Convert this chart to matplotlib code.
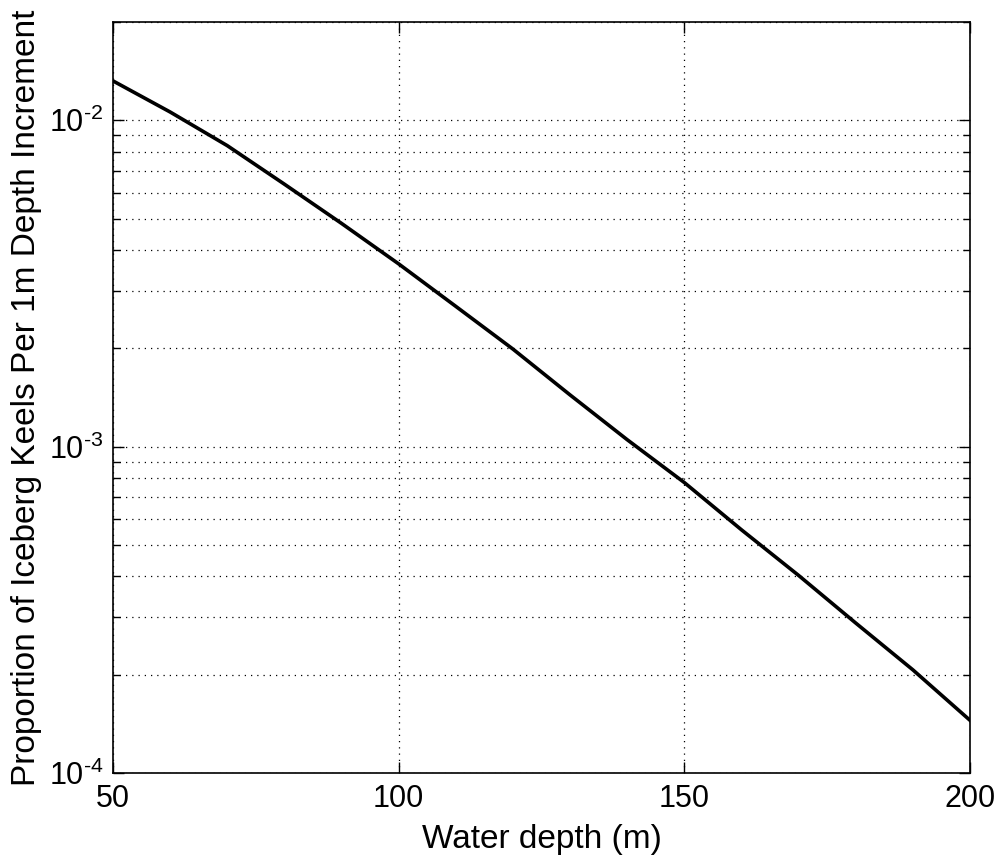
import matplotlib
matplotlib.use("Agg")
import matplotlib.pyplot as plt
from matplotlib.ticker import LogLocator, FixedLocator, NullFormatter

plt.rcParams['font.family'] = ['Liberation Sans', 'DejaVu Sans']
plt.rcParams['mathtext.fontset'] = 'custom'
plt.rcParams['mathtext.rm'] = 'Liberation Sans'
plt.rcParams['mathtext.it'] = 'Liberation Sans'

# Data
depth = [50, 60, 70, 80, 90, 100, 110, 120, 130, 140, 150, 160, 170, 180, 190, 200]
proportion = [1.32e-2, 1.06e-2, 8.36e-3, 6.37e-3, 4.83e-3, 3.63e-3, 2.69e-3, 1.99e-3,
              1.44e-3, 1.05e-3, 7.76e-4, 5.56e-4, 4.03e-4, 2.88e-4, 2.07e-4, 1.45e-4]
xticks = [50, 100, 150, 200]
yticks = [1e-4, 1e-3, 1e-2]
ytick_labels = [r'$10^{\text{-4}}$', r'$10^{\text{-3}}$', r'$10^{\text{-2}}$']

fig = plt.figure(figsize=(10, 8.6), dpi=100)
ax = fig.add_axes([0.113, 0.1012, 0.857, 0.8732])

ax.plot(depth, proportion, color='black', lw=2.6)
ax.set_yscale('log')
ax.set_xlim(50, 200)
ax.set_ylim(1e-4, 2e-2)

ax.xaxis.set_major_locator(FixedLocator(xticks))
ax.set_yticks(yticks)
ax.set_yticklabels(ytick_labels)
ax.yaxis.set_minor_locator(LogLocator(base=10, subs=range(2, 10)))
ax.yaxis.set_minor_formatter(NullFormatter())

ax.grid(True, which='major', axis='both', color='black', linestyle=(0, (1, 4)), lw=0.9)
ax.grid(True, which='minor', axis='y', color='black', linestyle=(0, (1, 4)), lw=0.9)

ax.tick_params(axis='both', which='both', direction='in', top=True, right=True,
               labelsize=22, width=1)
ax.tick_params(axis='x', which='major', pad=8)
ax.tick_params(axis='y', which='both', pad=7)
ax.tick_params(axis='both', which='major', length=8)
ax.tick_params(axis='y', which='minor', length=5)

for s in ax.spines.values():
    s.set_linewidth(1.2)

ax.set_xlabel('Water depth (m)', fontsize=24, labelpad=7)
ax.set_ylabel('Proportion of Iceberg Keels Per 1m Depth Increment', fontsize=24, labelpad=5)

fig.savefig('out.png', dpi=100, facecolor='white')
